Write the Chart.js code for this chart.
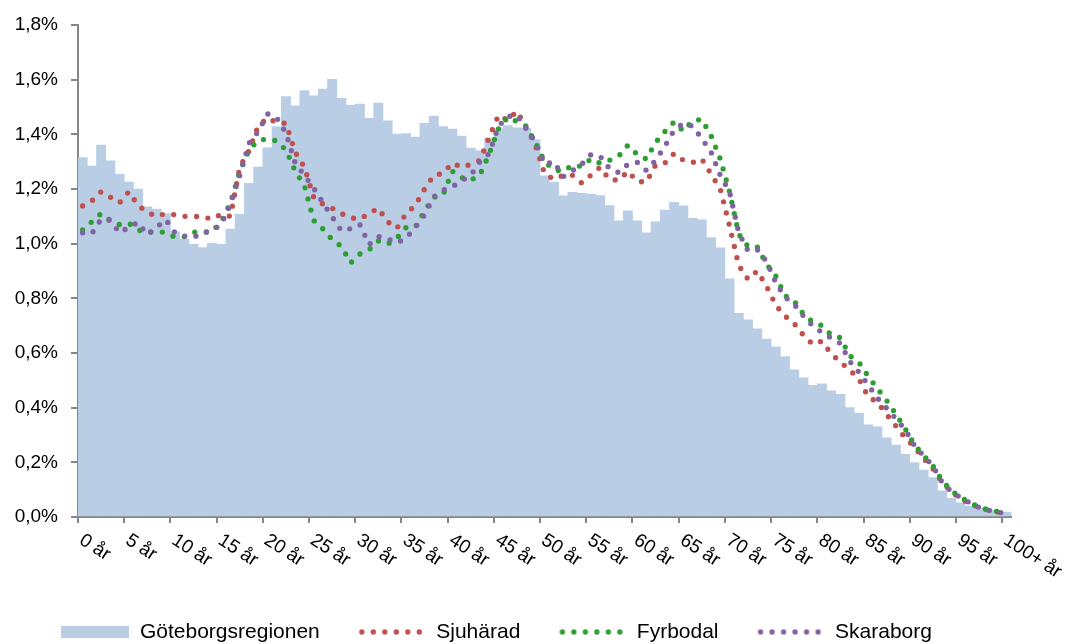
<!DOCTYPE html>
<html>
<head>
<meta charset="utf-8">
<script src="https://cdn.jsdelivr.net/npm/chart.js@4.4.1/dist/chart.umd.min.js"></script>
<style>
  html, body { margin: 0; padding: 0; background: #ffffff; }
  #c { display: block; }
</style>
</head>
<body>
<canvas id="c" width="1075" height="644"></canvas>
<script>
const ages = ['0 år','1 år','2 år','3 år','4 år','5 år','6 år','7 år','8 år','9 år',
  '10 år','11 år','12 år','13 år','14 år','15 år','16 år','17 år','18 år','19 år',
  '20 år','21 år','22 år','23 år','24 år','25 år','26 år','27 år','28 år','29 år',
  '30 år','31 år','32 år','33 år','34 år','35 år','36 år','37 år','38 år','39 år',
  '40 år','41 år','42 år','43 år','44 år','45 år','46 år','47 år','48 år','49 år',
  '50 år','51 år','52 år','53 år','54 år','55 år','56 år','57 år','58 år','59 år',
  '60 år','61 år','62 år','63 år','64 år','65 år','66 år','67 år','68 år','69 år',
  '70 år','71 år','72 år','73 år','74 år','75 år','76 år','77 år','78 år','79 år',
  '80 år','81 år','82 år','83 år','84 år','85 år','86 år','87 år','88 år','89 år',
  '90 år','91 år','92 år','93 år','94 år','95 år','96 år','97 år','98 år','99 år',
  '100+ år'];

const tickLabels = ['0 år','5 år','10 år','15 år','20 år','25 år','30 år','35 år','40 år','45 år',
  '50 år','55 år','60 år','65 år','70 år','75 år','80 år','85 år','90 år','95 år','100+ år'];

const seriesNames = ['Göteborgsregionen','Sjuhärad','Fyrbodal','Skaraborg'];

const goteborg = [1.315,1.284,1.361,1.303,1.254,1.225,1.200,1.135,1.126,1.110,
 1.043,1.017,0.998,0.986,1.001,0.998,1.053,1.107,1.221,1.280,
 1.351,1.428,1.538,1.504,1.560,1.541,1.566,1.601,1.532,1.507,
 1.511,1.459,1.514,1.449,1.401,1.403,1.390,1.440,1.467,1.428,
 1.419,1.394,1.350,1.340,1.387,1.420,1.432,1.424,1.422,1.380,
 1.248,1.225,1.175,1.188,1.184,1.181,1.176,1.139,1.084,1.120,
 1.084,1.040,1.080,1.123,1.151,1.138,1.093,1.087,1.022,0.985,
 0.871,0.745,0.721,0.688,0.651,0.623,0.587,0.538,0.509,0.482,
 0.487,0.462,0.449,0.400,0.379,0.337,0.330,0.290,0.263,0.229,
 0.199,0.172,0.144,0.096,0.068,0.052,0.040,0.032,0.026,0.022,
 0.018];

const sjuharad = [1.138,1.157,1.190,1.170,1.150,1.190,1.140,1.115,1.100,1.110,
 1.106,1.100,1.100,1.098,1.090,1.108,1.100,1.280,1.340,1.430,
 1.460,1.443,1.440,1.335,1.280,1.170,1.145,1.130,1.110,1.095,
 1.090,1.110,1.130,1.080,1.056,1.110,1.140,1.200,1.250,1.257,
 1.295,1.280,1.290,1.305,1.390,1.470,1.452,1.485,1.425,1.360,
 1.255,1.236,1.250,1.250,1.222,1.251,1.280,1.235,1.232,1.265,
 1.228,1.225,1.288,1.295,1.330,1.305,1.297,1.310,1.255,1.200,
 1.065,0.920,0.870,0.900,0.845,0.775,0.735,0.708,0.665,0.632,
 0.643,0.597,0.567,0.538,0.505,0.440,0.420,0.375,0.333,0.290,
 0.256,0.215,0.177,0.128,0.093,0.067,0.048,0.036,0.025,0.018,
 0.012];

const fyrbodal = [1.050,1.080,1.110,1.085,1.070,1.075,1.050,1.040,1.046,1.040,
 1.024,1.026,1.042,1.040,1.045,1.080,1.150,1.263,1.343,1.378,
 1.383,1.376,1.343,1.266,1.212,1.085,1.054,1.015,0.990,0.930,
 0.962,0.978,1.010,0.998,1.020,1.059,1.060,1.120,1.170,1.178,
 1.265,1.242,1.232,1.252,1.329,1.420,1.462,1.447,1.430,1.370,
 1.300,1.270,1.265,1.287,1.283,1.310,1.294,1.305,1.320,1.360,
 1.327,1.310,1.370,1.410,1.445,1.412,1.450,1.455,1.395,1.310,
 1.190,1.035,0.990,0.988,0.925,0.882,0.810,0.790,0.742,0.714,
 0.700,0.666,0.656,0.590,0.566,0.515,0.470,0.426,0.377,0.323,
 0.265,0.225,0.188,0.134,0.096,0.072,0.053,0.036,0.026,0.020,
 0.015];

const skaraborg = [1.040,1.037,1.090,1.085,1.040,1.060,1.078,1.033,1.060,1.088,
 1.040,1.028,1.023,1.040,1.048,1.070,1.145,1.250,1.367,1.410,
 1.475,1.461,1.405,1.295,1.250,1.203,1.150,1.098,1.047,1.055,
 1.070,0.997,1.026,1.018,1.003,1.020,1.060,1.105,1.172,1.196,
 1.208,1.230,1.250,1.300,1.330,1.430,1.465,1.470,1.420,1.372,
 1.290,1.300,1.245,1.267,1.290,1.326,1.320,1.275,1.260,1.290,
 1.298,1.268,1.305,1.356,1.415,1.440,1.430,1.385,1.335,1.250,
 1.190,1.040,0.974,0.978,0.935,0.858,0.804,0.778,0.735,0.700,
 0.675,0.655,0.635,0.570,0.530,0.483,0.435,0.398,0.360,0.320,
 0.262,0.224,0.187,0.127,0.093,0.071,0.052,0.035,0.025,0.018,
 0.013];

const COLORS = { bar: '#B9CDE5', red: '#C0504D', green: '#2E9E33', purple: '#8064A2', axis: '#868686' };
const FONT = '"Liberation Sans", Arial, Helvetica, sans-serif';
const LABEL_ANGLE = 33;
const DOT_GAP = 11.5;
const DOT_SIZE = 5.3;
const SWATCH_W = 68;

Chart.defaults.font.family = FONT;
Chart.defaults.color = '#000000';

function makeSwatch(kind, color) {
  const cv = document.createElement('canvas');
  cv.width = SWATCH_W; cv.height = 14;
  const g = cv.getContext('2d');
  if (kind === 'box') {
    g.fillStyle = color;
    g.fillRect(0, 1, SWATCH_W, 12);
  } else {
    g.fillStyle = color;
    for (let k = 0; k < 6; k++) {
      g.beginPath();
      g.arc(4 + k * DOT_GAP, 7, DOT_SIZE / 2, 0, Math.PI * 2);
      g.fill();
    }
  }
  return cv;
}
const swatches = [makeSwatch('box', COLORS.bar), makeSwatch('dots', COLORS.red),
                  makeSwatch('dots', COLORS.green), makeSwatch('dots', COLORS.purple)];

const rotatedTicks = {
  id: 'rotatedTicks',
  beforeDraw(chart) {
    const s = chart.scales.x;
    const items = s.getLabelItems();
    const rad = LABEL_ANGLE * Math.PI / 180;
    items.forEach(it => {
      const x = it.options.translation[0];
      it.options.translation = [x - 1.5, s.top + 21.5];
      it.options.rotation = rad;
      it.options.textAlign = 'left';
      it.options.textBaseline = 'middle';
      it.textOffset = 0;
    });
  }
};

function lineDs(label, data, color, order) {
  return {
    type: 'line', label, data, order,
    borderColor: color, backgroundColor: color,
    borderWidth: DOT_SIZE, borderDash: [0, DOT_GAP], borderCapStyle: 'round', borderJoinStyle: 'round',
    pointRadius: 0, pointHoverRadius: 0, tension: 0, fill: false
  };
}

new Chart(document.getElementById('c'), {
  type: 'bar',
  data: {
    labels: ages,
    datasets: [
      { type: 'bar', label: seriesNames[0], data: goteborg, order: 3, backgroundColor: COLORS.bar,
        borderWidth: 0, barPercentage: 1, categoryPercentage: 1 },
      lineDs(seriesNames[1], sjuharad, COLORS.red, 2),
      lineDs(seriesNames[2], fyrbodal, COLORS.green, 1),
      lineDs(seriesNames[3], skaraborg, COLORS.purple, 0)
    ]
  },
  plugins: [rotatedTicks],
  options: {
    responsive: false,
    devicePixelRatio: 1,
    animation: false,
    layout: { padding: { left: -18, right: 63.6, top: 25, bottom: -8.5 } },
    plugins: {
      tooltip: { enabled: false },
      legend: {
        position: 'bottom',
        labels: {
          font: { size: 21, family: FONT },
          color: '#000000',
          padding: 38,
          usePointStyle: true,
          pointStyleWidth: SWATCH_W,
          sort: (a, b) => a.datasetIndex - b.datasetIndex,
          generateLabels: (chart) => {
            const items = Chart.defaults.plugins.legend.labels.generateLabels(chart);
            items.forEach(it => { it.pointStyle = swatches[it.datasetIndex]; it.lineWidth = 0; });
            return items;
          }
        }
      }
    },
    scales: {
      x: {
        offset: true,
        grid: {
          offset: true, drawOnChartArea: false, drawTicks: true, tickLength: 6, lineWidth: 2,
          tickColor: (ctx) => (typeof ctx.index === 'number' && ctx.index % 5 === 0) ? COLORS.axis : 'rgba(0,0,0,0)'
        },
        border: { display: true, color: COLORS.axis, width: 2 },
        ticks: {
          autoSkip: false, maxRotation: 0, minRotation: 0,
          font: { size: 19, family: FONT }, color: '#000000',
          callback: (v, i) => tickLabels.includes(ages[i]) ? ages[i] : ''
        },
        afterFit: (s) => { s.height = 66.5; }
      },
      y: {
        min: 0, max: 1.8,
        grid: { drawOnChartArea: false, drawTicks: true, tickLength: 7, lineWidth: 2, tickColor: COLORS.axis },
        border: { display: true, color: COLORS.axis, width: 2 },
        ticks: {
          stepSize: 0.2, padding: 13,
          font: { size: 19, family: FONT }, color: '#000000',
          callback: (v) => v.toFixed(1).replace('.', ',') + '%'
        },
        afterFit: (s) => { s.width = 96; }
      }
    }
  }
});
</script>
</body>
</html>
